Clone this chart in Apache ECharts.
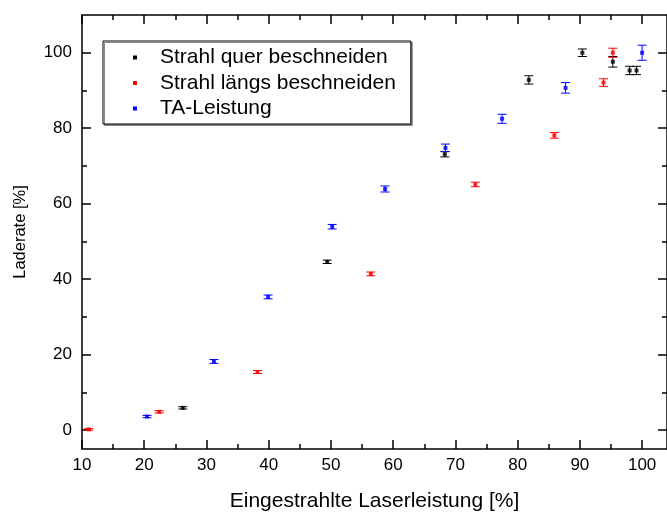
<!DOCTYPE html>
<html>
<head>
<meta charset="utf-8">
<script src="https://cdn.jsdelivr.net/npm/echarts@6/dist/echarts.min.js"></script>
<style>html,body{margin:0;padding:0;background:#fff;}#c{width:667px;height:512px;}</style>
</head>
<body>
<div id="c"></div>
<script>
// ---- data ----
var seriesNames = ['Strahl quer beschneiden', 'Strahl längs beschneiden', 'TA-Leistung'];
var querX = [26.2, 49.4, 68.3, 81.8, 90.4, 95.3, 98.0, 99.1];
var querY = [5.9, 44.6, 73.1, 92.8, 100.0, 97.6, 95.3, 95.3];
var querErr = [0.3, 0.45, 0.7, 1.1, 1.0, 1.4, 1.1, 1.1];
var laengsX = [11.1, 22.4, 38.2, 56.4, 73.2, 85.9, 93.8, 95.3];
var laengsY = [0.2, 4.85, 15.4, 41.4, 65.1, 78.1, 92.1, 100.0];
var laengsErr = [0.2, 0.3, 0.4, 0.5, 0.6, 0.75, 1.0, 1.2];
var taX = [20.45, 31.2, 39.9, 50.2, 58.7, 68.4, 77.5, 87.7, 100.0];
var taY = [3.6, 18.2, 35.3, 53.9, 63.9, 74.8, 82.5, 90.7, 100.0];
var taErr = [0.3, 0.5, 0.5, 0.6, 0.8, 1.0, 1.2, 1.4, 2.0];
var xMajor = [10, 20, 30, 40, 50, 60, 70, 80, 90, 100];
var xMinor = [15, 25, 35, 45, 55, 65, 75, 85, 95];
var yMajor = [0, 20, 40, 60, 80, 100];
var yMinor = [10, 30, 50, 70, 90];

var colors = ['#000000', '#ff0000', '#0000ff'];
var FONT = 'Liberation Sans, Arial, sans-serif';

function pts(xs, ys) { return xs.map(function (x, i) { return [x, ys[i]]; }); }
function errPts(xs, ys, es) { return xs.map(function (x, i) { return [x, ys[i], es[i]]; }); }

function errRender(color) {
  return function (params, api) {
    var x = api.value(0), y = api.value(1), e = api.value(2);
    var top = api.coord([x, y + e]);
    var bot = api.coord([x, y - e]);
    var hw = 4.5;
    var st = { stroke: color, lineWidth: 1 };
    return {
      type: 'group',
      children: [
        { type: 'line', shape: { x1: top[0], y1: top[1], x2: bot[0], y2: bot[1] }, style: st },
        { type: 'line', shape: { x1: top[0] - hw, y1: top[1], x2: top[0] + hw, y2: top[1] }, style: st },
        { type: 'line', shape: { x1: bot[0] - hw, y1: bot[1], x2: bot[0] + hw, y2: bot[1] }, style: st }
      ]
    };
  };
}

function xAx(pos, vals, len, showLine, showLabel) {
  return {
    type: 'value', position: pos, min: 10, max: 104,
    axisLine: { show: showLine, onZero: false, lineStyle: { color: '#000', width: 1.5 } },
    axisTick: { show: true, inside: true, length: len, customValues: vals, lineStyle: { color: '#000', width: 1.5 } },
    axisLabel: { show: showLabel, customValues: vals, color: '#000', fontSize: 17, fontFamily: FONT, margin: 8 },
    splitLine: { show: false }
  };
}
function yAx(pos, vals, len, showLine, showLabel) {
  return {
    type: 'value', position: pos, min: -5, max: 110,
    axisLine: { show: showLine, onZero: false, lineStyle: { color: '#000', width: 1.5 } },
    axisTick: { show: true, inside: true, length: len, customValues: vals, lineStyle: { color: '#000', width: 1.5 } },
    axisLabel: { show: showLabel, customValues: vals, color: '#000', fontSize: 17, fontFamily: FONT, margin: 10 },
    splitLine: { show: false }
  };
}

var xAxes = [
  xAx('bottom', xMajor, 9, true, true),
  xAx('bottom', xMinor, 5, false, false),
  xAx('top', xMajor, 9, true, false),
  xAx('top', xMinor, 5, false, false)
];
xAxes[0].name = 'Eingestrahlte Laserleistung [%]';
xAxes[0].nameLocation = 'middle';
xAxes[0].nameGap = 42;
xAxes[0].nameTextStyle = { color: '#000', fontSize: 21, fontFamily: FONT };

var yAxes = [
  yAx('left', yMajor, 9, true, true),
  yAx('left', yMinor, 5, false, false),
  yAx('right', yMajor, 9, true, false),
  yAx('right', yMinor, 5, false, false)
];
yAxes[0].name = 'Laderate [%]';
yAxes[0].nameLocation = 'middle';
yAxes[0].nameGap = 53;
yAxes[0].nameTextStyle = { color: '#000', fontSize: 16.5, fontFamily: FONT };

var allX = [querX, laengsX, taX], allY = [querY, laengsY, taY], allE = [querErr, laengsErr, taErr];
var series = [];
for (var i = 0; i < 3; i++) {
  series.push({
    type: 'custom', name: seriesNames[i], silent: true,
    renderItem: errRender(colors[i]),
    data: errPts(allX[i], allY[i], allE[i]),
    z: 2
  });
}
for (var j = 0; j < 3; j++) {
  series.push({
    type: 'scatter', name: seriesNames[j], symbol: 'rect', symbolSize: 4,
    itemStyle: { color: colors[j] },
    data: pts(allX[j], allY[j]),
    z: 3
  });
}

var chart = echarts.init(document.getElementById('c'), null, { renderer: 'canvas' });
chart.setOption({
  animation: false,
  backgroundColor: '#fff',
  grid: { left: 82, top: 15, width: 585, height: 434, containLabel: false, outerBoundsMode: 'none' },
  xAxis: xAxes,
  yAxis: yAxes,
  legend: {
    data: seriesNames.map(function (n, k) { return { name: n, icon: 'rect', itemStyle: { color: colors[k] } }; }),
    orient: 'vertical', left: 103, top: 41,
    itemWidth: 4, itemHeight: 4, itemGap: 4.5,
    padding: [6, 15, 5, 30],
    borderColor: '#000', borderWidth: 1, backgroundColor: '#fff',
    shadowColor: '#888', shadowOffsetX: 1.5, shadowOffsetY: 1.5, shadowBlur: 0,
    textStyle: { color: '#000', fontSize: 21, fontFamily: FONT, lineHeight: 21, padding: [0, 0, 0, 18] },
    selectedMode: false
  },
  series: series
});
</script>
</body>
</html>
